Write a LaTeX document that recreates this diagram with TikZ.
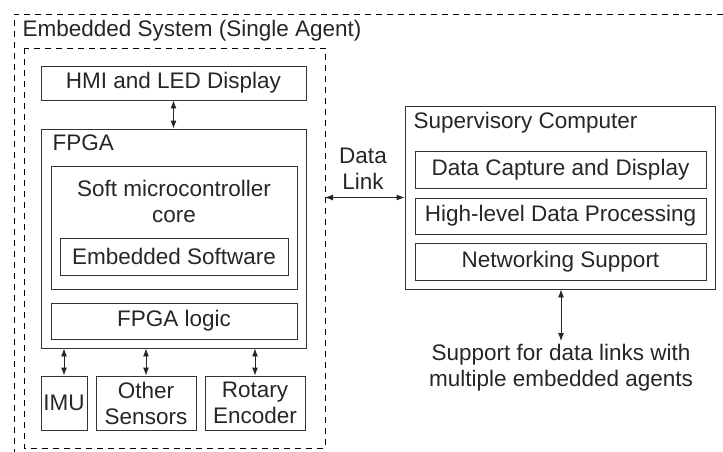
\documentclass[tikz,border=0pt]{standalone}
\usepackage{fontspec}
\setmainfont{Liberation Sans}
\usepackage{tikz}
\usetikzlibrary{arrows.meta}
\tikzset{box/.style={draw=black!80, line width=0.9pt, inner sep=0pt, align=center}}
\tikzset{link/.style={line width=0.9pt, draw=black!85, <->}}

\begin{document}
\begin{tikzpicture}[x=1pt, y=-1pt, >={Latex[length=8pt,width=6pt]},
    font=\fontsize{22.5}{26}\selectfont, text=black!85]
  \useasboundingbox (0,0) rectangle (723,452);

  % EMBEDDED SYSTEM
  % outer frame
  \draw[dashed, line width=0.9pt, dash pattern=on 6pt off 5pt] (723,14) -- (14,14) -- (14,452);
  \node[anchor=west] (embtitle) at (19,31) {Embedded System (Single Agent)};
  % inner frame
  \draw[dashed, line width=0.9pt, dash pattern=on 6pt off 5pt] (24,48) rectangle (325,448);

  % display
  \node[box, minimum width=265pt, minimum height=34pt] (hmi) at (173.5,83) {HMI and LED Display};

  % FPGA
  \node[box, minimum width=265pt, minimum height=219pt] (fpga) at (173.5,238.5) {};
  \node[anchor=west] (fpgatitle) at (49,143) {FPGA};
  \node[box, minimum width=246pt, minimum height=123pt, anchor=north] (core) at (174,166) {};
  \node[align=center] (coretitle) at (174,201) {Soft microcontroller\\core};
  \node[box, minimum width=228pt, minimum height=37pt] (sw) at (174,256.5) {Embedded Software};
  \node[box, minimum width=246pt, minimum height=36pt] (logic) at (174,321) {FPGA logic};

  % sensors
  \node[box, minimum width=46pt, minimum height=54pt] (imu) at (64,403) {IMU};
  \node[box, minimum width=100pt, minimum height=54pt] (other) at (146,403) {Other\\Sensors};
  \node[box, minimum width=100pt, minimum height=54pt] (rotary) at (255,403) {Rotary\\Encoder};

  % links inside
  \draw[link] (hmi.south) -- (fpga.north);
  \draw[link] (imu.north |- fpga.south) -- (imu.north);
  \draw[link] (other.north |- fpga.south) -- (other.north);
  \draw[link] (rotary.north |- fpga.south) -- (rotary.north);

  % SUPERVISORY COMPUTER
  \node[box, minimum width=310pt, minimum height=183pt] (sup) at (560,197.5) {};
  \node[anchor=west] (suptitle) at (410,123) {Supervisory Computer};
  \node[box, minimum width=291pt, minimum height=37pt] (capture) at (560.5,169.5) {Data Capture and Display};
  \node[box, minimum width=291pt, minimum height=36pt] (hlproc) at (560.5,216) {High-level Data Processing};
  \node[box, minimum width=291pt, minimum height=37pt] (netsup) at (560.5,261.5) {Networking Support};

  % data link
  \coordinate (linkend) at (325,197.5);
  \draw[link] (linkend) -- (sup.west);
  \node[align=center] (linklabel) at (363,169) {Data\\Link};

  % other agents
  \node[align=center, anchor=north] (agents) at (561,341) {Support for data links with\\multiple embedded agents};
  \draw[link] (sup.south -| agents.north) -- (agents.north);
\end{tikzpicture}
\end{document}
